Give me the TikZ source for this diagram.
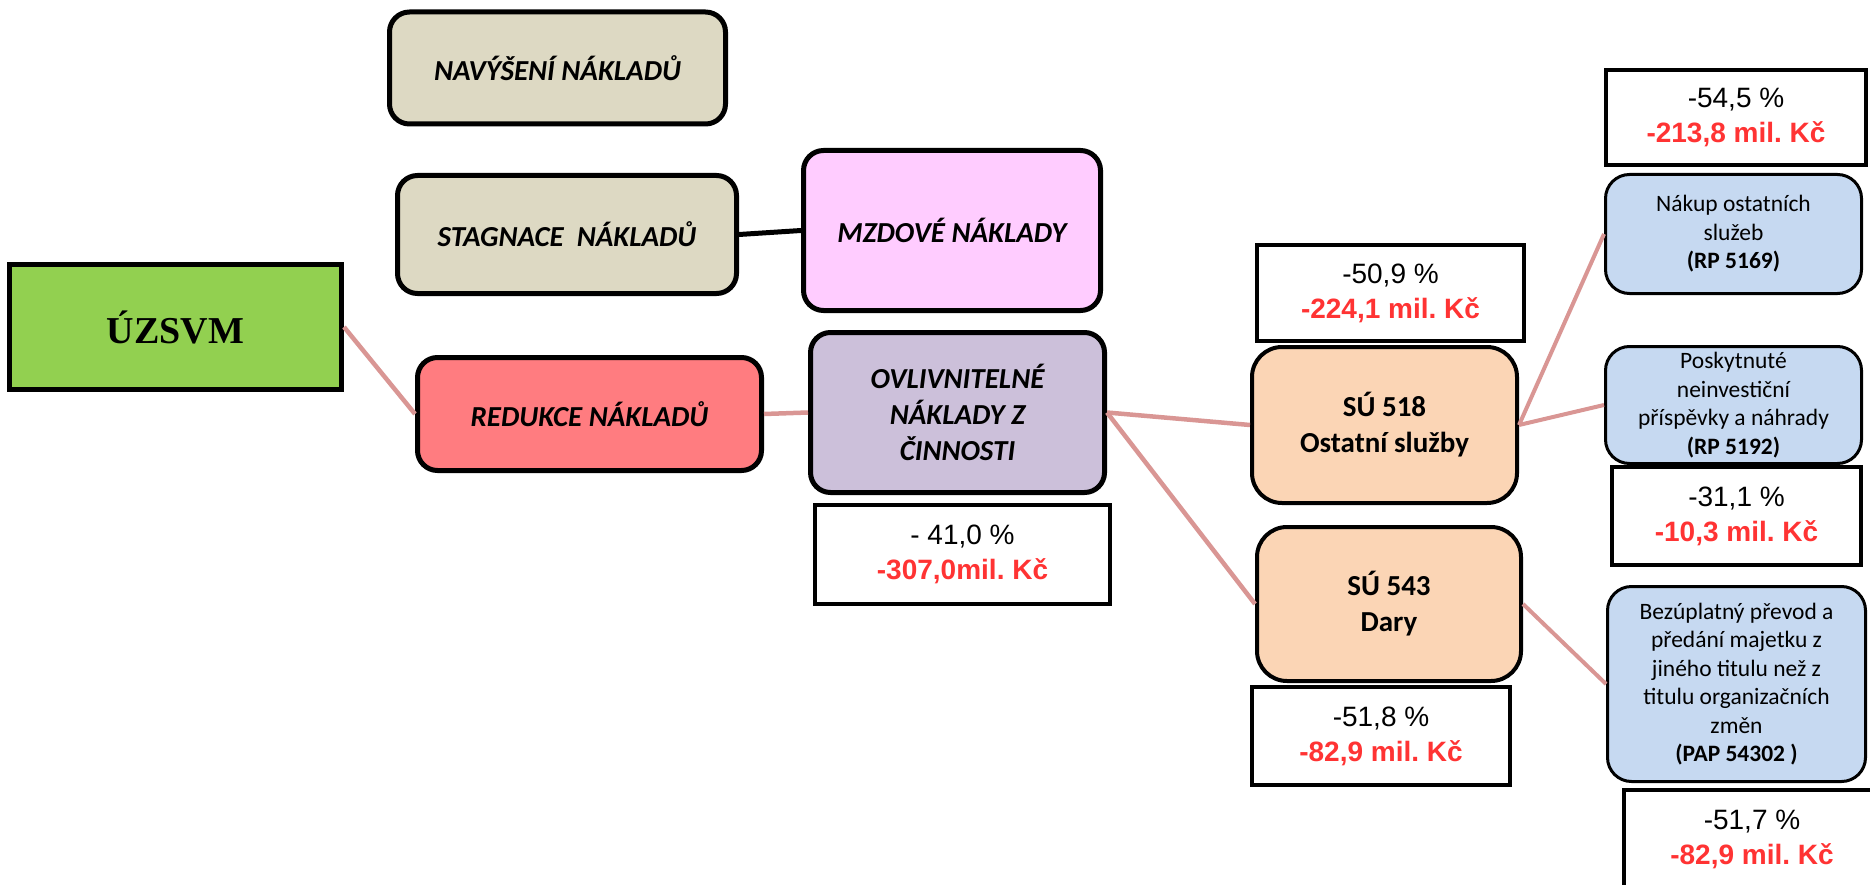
\documentclass[tikz,border=0pt]{standalone}
\usepackage{fontspec}
\usepackage{tikz}
\usepackage{xcolor}
\usetikzlibrary{positioning}
\setmainfont{Carlito}
\newfontfamily\arialfont{Liberation Sans}
\newfontfamily\titlefont{Liberation Serif}
\frenchspacing

\definecolor{tanbox}{HTML}{DDD9C3}
\definecolor{headgreen}{HTML}{92D050}
\definecolor{redbox}{HTML}{FF7C80}
\definecolor{pinkbox}{HTML}{FFCCFF}
\definecolor{lilacbox}{HTML}{CCC0DA}
\definecolor{peachbox}{HTML}{FBD5B5}
\definecolor{bluebox}{HTML}{C6D9F1}
\definecolor{linkpink}{HTML}{D99694}
\definecolor{valred}{HTML}{FF3333}

\begin{document}
\begin{tikzpicture}[x=1pt, y=-1pt,
        head/.style={rectangle, draw=black, line width=5pt, fill=headgreen, inner sep=0pt, font=\titlefont\bfseries\fontsize{38}{44}\selectfont},
        category/.style={rectangle, rounded corners=20pt, draw=black, line width=5pt, inner sep=0pt, align=center, font=\bfseries\itshape\fontsize{29}{36}\selectfont},
        account/.style={rectangle, rounded corners=30pt, draw=black, line width=4pt, fill=peachbox, inner sep=0pt, align=center, font=\bfseries\fontsize{29}{36}\selectfont},
        item/.style={rectangle, rounded corners=24pt, draw=black, line width=3pt, fill=bluebox, inner sep=0pt, align=center, font=\fontsize{23.5}{28.5}\selectfont},
        value/.style={rectangle, draw=black, line width=4pt, fill=white, inner sep=0pt, align=center, font=\arialfont\fontsize{28}{35}\selectfont},
        link/.style={draw=linkpink, line width=4.5pt}
    ]
        \useasboundingbox (0,0) rectangle (1870,885);

        % Root
        \node[head, minimum width=332pt, minimum height=125pt] (uzsvm) at (175.5,327) {ÚZSVM};

        % Cost groups
        \node[category, fill=tanbox, minimum width=336pt, minimum height=112pt] (navys) at (557.5,68) {NAVÝŠENÍ NÁKLADŮ};
        \node[category, fill=tanbox, minimum width=339pt, minimum height=118pt] (stag) at (567,234.5) {STAGNACE~ NÁKLADŮ};
        \node[category, fill=redbox, minimum width=344pt, minimum height=113pt] (redukce) at (589.5,414) {REDUKCE NÁKLADŮ};
        \node[category, fill=pinkbox, minimum width=297pt, minimum height=160pt] (mzdove) at (952,230.5) {MZDOVÉ NÁKLADY};
        \node[category, fill=lilacbox, minimum width=294pt, minimum height=160pt] (ovliv) at (957.5,412.5) {OVLIVNITELNÉ\\NÁKLADY Z\\ČINNOSTI};
        \node[value, minimum width=295pt, minimum height=99pt] (v410) at (962.5,554.5) {- 41,0 \%\\\textcolor{valred}{\bfseries -307,0mil. Kč}};

        % Accounts
        \node[account, minimum width=265pt, minimum height=156pt] (su518) at (1384.5,425) {SÚ 518\\Ostatní služby};
        \node[value, minimum width=267pt, minimum height=96pt] (v509) at (1390.5,293) {-50,9 \%\\\textcolor{valred}{\bfseries -224,1 mil. Kč}};
        \node[account, minimum width=264pt, minimum height=154pt] (su543) at (1389,604) {SÚ 543\\Dary};
        \node[value, minimum width=258pt, minimum height=98pt] (v518) at (1381,736) {-51,8 \%\\\textcolor{valred}{\bfseries -82,9 mil. Kč}};

        % Items
        \node[value, minimum width=260pt, minimum height=95pt] (v545) at (1736,117.5) {-54,5 \%\\\textcolor{valred}{\bfseries -213,8 mil. Kč}};
        \node[item, minimum width=256pt, minimum height=119pt] (nakup) at (1733.5,234) {Nákup ostatních\\služeb\\\textbf{(RP 5169)}};
        \node[item, minimum width=256pt, minimum height=117pt] (posk) at (1733.5,405) {Poskytnuté\\neinvestiční\\příspěvky a náhrady\\\textbf{(RP 5192)}};
        \node[value, minimum width=249pt, minimum height=98pt, below=0pt of posk, xshift=3pt] (v311) {-31,1 \%\\\textcolor{valred}{\bfseries -10,3 mil. Kč}};
        \node[item, minimum width=258pt, minimum height=195pt] (bezupl) at (1736.5,684) {Bezúplatný převod a\\předání majetku z\\jiného titulu než z\\titulu organizačních\\změn\\\textbf{(PAP 54302 )}};
        \node[value, minimum width=256pt, minimum height=98pt] (v517) at (1752,839) {-51,7 \%\\\textcolor{valred}{\bfseries -82,9 mil. Kč}};

        % Connections
        \draw[link] (uzsvm.east) -- (redukce.west);
        \draw[black, line width=5pt] (stag.east) -- (mzdove.west);
        \draw[link] (redukce.east) -- (ovliv.west);
        \draw[link] (ovliv.east) -- (su518.west);
        \draw[link] (ovliv.east) -- (su543.west);
        \draw[link, line width=4pt] (su518.east) -- (nakup.west);
        \draw[link, line width=4pt] (su518.east) -- (posk.west);
        \draw[link, line width=4pt] (su543.east) -- (bezupl.west);
    \end{tikzpicture}
\end{document}
